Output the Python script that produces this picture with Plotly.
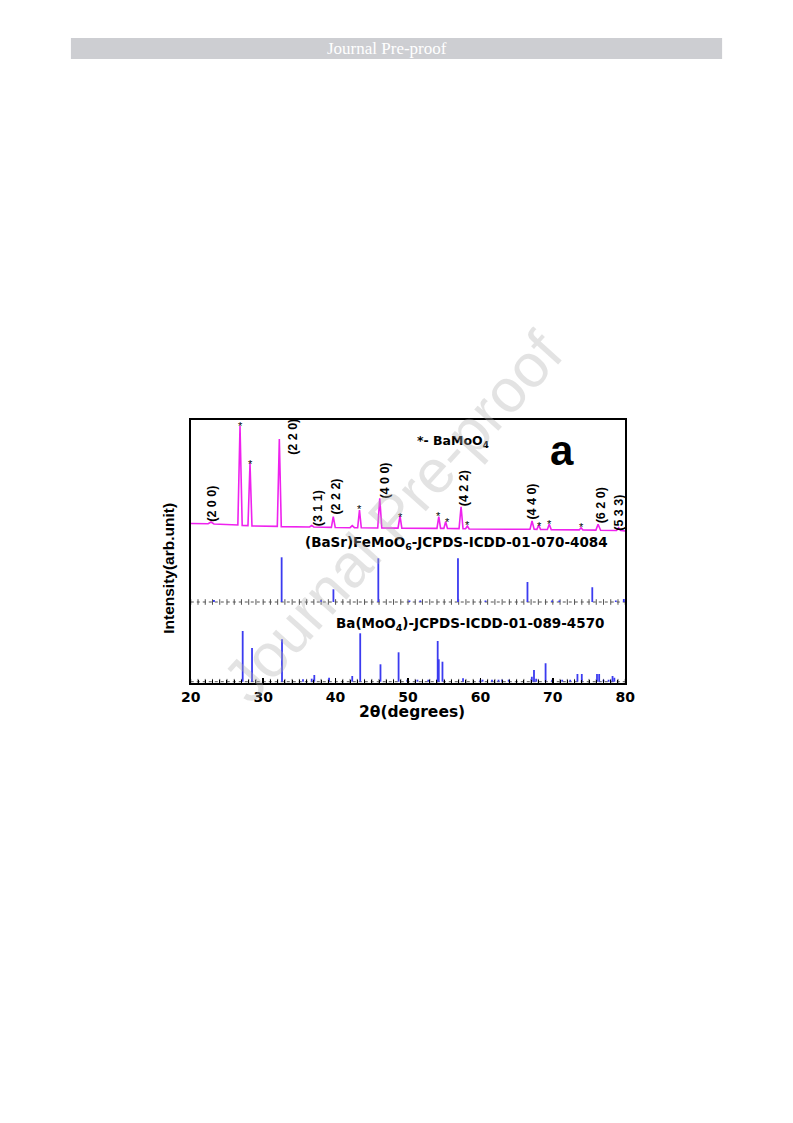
import plotly.graph_objects as go

W, H = 793, 1123

# ---------------- data ----------------
# measured XRD pattern (magenta), 2theta vs intensity (arb. units)
pat_x = [20.0, 22.4, 22.8, 23.2,
         26.5, 26.8, 27.1,
         27.9, 28.18, 28.45,
         31.95, 32.23, 32.5,
         36.4, 36.7, 37.0,
         39.42, 39.68, 39.95,
         42.0, 42.3, 42.6,
         43.05, 43.3, 43.55,
         45.82, 46.1, 46.38,
         48.62, 48.9, 49.15,
         54.0, 54.25, 54.5,
         54.95, 55.2, 55.45,
         57.05, 57.33, 57.6,
         57.95, 58.2, 58.45,
         66.85, 67.13, 67.42,
         67.8, 68.05, 68.3,
         69.25, 69.5, 69.78,
         73.65, 73.9, 74.15,
         75.95, 76.25, 76.6,
         78.8, 79.08, 79.4, 80.0]
pat_y = [159.5, 159.3, 161.0, 159.0,
         158.0, 257.0, 157.6,
         157.4, 219.7, 157.0,
         156.6, 244.0, 156.4,
         156.0, 157.5, 156.0,
         155.6, 166.3, 155.5,
         155.3, 157.3, 155.3,
         155.3, 173.0, 155.2,
         155.0, 184.7, 155.0,
         154.9, 167.0, 154.8,
         154.6, 166.3, 154.6,
         154.6, 161.3, 154.5,
         154.4, 176.3, 154.3,
         154.2, 157.0, 154.0,
         153.7, 162.0, 153.7,
         153.6, 158.0, 153.6,
         153.5, 158.7, 153.4,
         153.1, 155.3, 153.0,
         152.9, 158.7, 152.8,
         152.5, 155.3, 152.4, 152.0]

# (BaSr)FeMoO6 JCPDS-ICDD-01-070-4084 reference lines
bsfmo_pos = [23.2, 32.55, 38.0, 39.7, 45.9, 50.2, 51.7, 56.9, 60.7, 66.5,
             69.9, 70.9, 75.45, 78.7, 79.8]
bsfmo_int = [2.0, 44.7, 2.0, 12.7, 43.7, 1.5, 1.5, 43.7, 1.5, 20.0,
             1.5, 1.5, 14.7, 1.5, 3.0]
bsfmo_base = 81.0

# Ba(MoO4) JCPDS-ICDD-01-089-4570 reference lines
bmo_pos = [27.17, 28.46, 32.6, 35.5, 36.7, 37.06, 39.1, 42.3, 43.4, 46.2,
           48.7, 49.9, 51.3, 52.8, 54.1, 54.25, 54.76, 57.6, 60.0, 60.3,
           61.6, 62.5, 63.0, 63.9, 67.1, 67.4, 67.7, 69.0, 69.9, 71.3,
           72.4, 73.4, 74.0, 76.1, 76.4, 77.0, 77.7, 78.25, 78.5]
bmo_int = [50.7, 33.7, 42.4, 2.4, 3.0, 6.7, 4.0, 5.7, 48.4, 17.4,
           29.4, 2.0, 2.0, 2.0, 40.7, 22.4, 20.0, 3.4, 2.0, 2.0,
           2.0, 2.0, 2.0, 2.0, 5.0, 11.7, 3.0, 18.4, 2.0, 2.0,
           2.0, 7.7, 7.7, 7.7, 7.7, 2.0, 2.0, 5.7, 4.0]
bmo_base = 1.3

# BaMoO4 impurity markers (*)
star_x = [26.8, 28.18, 43.3, 48.9, 54.25, 55.4, 58.25, 68.2, 69.5, 74.0]
star_y = [261.0, 223.0, 178.0, 169.7, 170.7, 164.7, 162.0, 161.3, 163.0, 159.7]

# Miller indices of the double perovskite
hkl_text = ["(2 0 0)", "(2 2 0)", "(3 1 1)", "(2 2 2)", "(4 0 0)",
            "(4 2 2)", "(4 4 0)", "(6 2 0)", "(5 3 3)"]
hkl_x = [22.9, 34.1, 37.6, 40.0, 46.7, 57.7, 67.0, 76.7, 79.1]
hkl_y = [179.0, 246.0, 175.0, 186.0, 202.5, 194.5, 181.5, 178.0, 170.0]

x_ticks = [20, 30, 40, 50, 60, 70, 80]
y_ticks = [11, 62, 113, 164, 215]

# ---------------- layout helpers ----------------
# the photographed page comes out slightly squeezed horizontally
# (picture_x = 9 + 0.976 * page_x); positions below are picture pixels
SQ, OFF = 0.976, 9.0


def px(x):
    return (x - OFF) / SQ / W


def py(y):
    return 1 - y / H


def sticks(pos, inten, base):
    xs, ys = [], []
    for p, h in zip(pos, inten):
        xs += [p, p, None]
        ys += [base, base + h, None]
    return xs, ys


fig = go.Figure()

fig.add_trace(go.Scatter(x=pat_x, y=pat_y, mode="lines",
                         line=dict(color="#ee22ee", width=1.6),
                         hoverinfo="skip", showlegend=False))

grid_x = list(range(20, 81))
for base in (bsfmo_base, bmo_base):
    fig.add_trace(go.Scatter(x=grid_x, y=[base] * len(grid_x), mode="lines+markers",
                             line=dict(color="#555555", width=1, dash="dot"),
                             marker=dict(symbol="line-ns-open", size=4,
                                         line=dict(color="#555555", width=1)),
                             hoverinfo="skip", showlegend=False))

for pos, inten, base in ((bsfmo_pos, bsfmo_int, bsfmo_base),
                         (bmo_pos, bmo_int, bmo_base)):
    xs, ys = sticks(pos, inten, base)
    fig.add_trace(go.Scatter(x=xs, y=ys, mode="lines",
                             line=dict(color="#3b3bf0", width=1.8),
                             hoverinfo="skip", showlegend=False))

C = dict(xanchor="center", yanchor="middle", showarrow=False)
ann = []
for sx, sy in zip(star_x, star_y):
    ann.append(dict(x=sx, y=sy, xref="x", yref="y", text="*", yshift=-4,
                    font=dict(family="Arial", size=11, color="black"), **C))
for t, hx, hy in zip(hkl_text, hkl_x, hkl_y):
    ann.append(dict(x=hx, y=hy, xref="x", yref="y", text=t, textangle=-90,
                    font=dict(family="Arial", size=12.5, color="black", weight="bold"), **C))

ann += [
    dict(x=px(453), y=py(441), xref="paper", yref="paper",
         text="*- BaMoO<sub>4</sub>",
         font=dict(family="DejaVu Sans", size=12.5, color="black", weight="bold"), **C),
    dict(x=px(562), y=py(450), xref="paper", yref="paper", text="a",
         font=dict(family="Arial", size=42, color="black", weight="bold"), **C),
    dict(x=px(456.5), y=py(543.5), xref="paper", yref="paper",
         text="(BaSr)FeMoO<sub>6</sub>-JCPDS-ICDD-01-070-4084",
         font=dict(family="DejaVu Sans", size=13.5, color="black", weight="bold"), **C),
    dict(x=px(469.5), y=py(624), xref="paper", yref="paper",
         text="Ba(MoO<sub>4</sub>)-JCPDS-ICDD-01-089-4570",
         font=dict(family="DejaVu Sans", size=13.5, color="black", weight="bold"), **C),
    dict(x=px(167), y=py(568), xref="paper", yref="paper",
         text="Intensity(arb.unit)", textangle=-90,
         font=dict(family="Arial", size=15.5, color="black", weight="bold"), **C),
    dict(x=px(412), y=py(712), xref="paper", yref="paper",
         text="2θ(degrees)",
         font=dict(family="DejaVu Sans", size=15.5, color="black", weight="bold"), **C),
    # header
    dict(x=px(386), y=py(48.5), xref="paper", yref="paper",
         text="Journal Pre-proof",
         font=dict(family="Liberation Serif", size=17, color="white"), **C),
    # watermark
    dict(x=px(392), y=py(517), xref="paper", yref="paper",
         text="Journal Pre-proof", textangle=-48,
         font=dict(family="Liberation Sans", size=61, color="rgba(175,175,175,0.35)"), **C),
]

shapes = [dict(type="rect", xref="paper", yref="paper",
               x0=px(70), x1=px(722), y0=py(59), y1=py(38),
               fillcolor="#cdced2", line=dict(width=0), layer="below")]

fig.update_layout(
    width=W, height=H, autosize=False,
    margin=dict(l=0, r=0, t=0, b=0, pad=0),
    paper_bgcolor="white", plot_bgcolor="white",
    showlegend=False,
    annotations=ann, shapes=shapes,
    xaxis=dict(domain=[px(190), px(625)], range=[20, 80],
               tickvals=x_ticks, ticktext=[str(v) for v in x_ticks],
               ticks="inside", ticklen=5, tickwidth=1.5, tickcolor="black",
               minor=dict(dtick=1, ticks="inside", ticklen=3, tickcolor="black", tickwidth=1),
               showline=True, linecolor="black", linewidth=2, mirror=True,
               showgrid=False, zeroline=False,
               tickfont=dict(family="DejaVu Sans", size=14, color="black", weight="bold")),
    yaxis=dict(domain=[py(683), py(420)], range=[0, 263],
               tickvals=y_ticks, showticklabels=False,
               ticks="inside", ticklen=9, tickwidth=1.5, tickcolor="white",
               showline=True, linecolor="black", linewidth=2, mirror="ticks",
               showgrid=False, zeroline=False),
)

fig.write_html("out.html",
               config={"responsive": False, "displayModeBar": False, "staticPlot": True},
               post_script="document.body.style.margin='0';"
                           "document.body.style.padding='0';"
                           "document.documentElement.style.overflow='hidden';")
